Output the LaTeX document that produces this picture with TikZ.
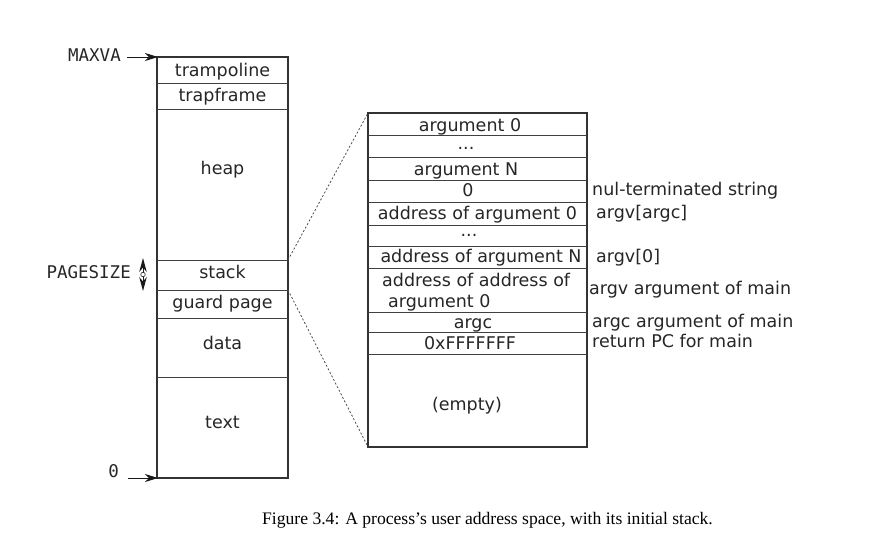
\documentclass[tikz,border=0pt]{standalone}
\usepackage{fontspec}
\setmainfont{DejaVu Sans}
\newfontfamily\monofont{DejaVu Sans Mono}
\newfontfamily\capfont{Liberation Serif}
\usetikzlibrary{arrows.meta}
\begin{document}
\begin{tikzpicture}[x=1pt,y=-1pt,
  box/.style={draw=black!80,line width=1.1pt},
  sep/.style={draw=black!75,line width=0.9pt},
  lbl/.style={inner sep=0pt,anchor=base,text=black!85,font=\fontsize{17.5}{21.3}\selectfont},
  mlbl/.style={inner sep=0pt,anchor=base east,text=black!85,font=\monofont\fontsize{17.5}{20}\selectfont},
  ptr/.style={draw=black!90,line width=1pt,-{Stealth[length=13pt,width=8pt,inset=4pt]}},
  zoomline/.style={draw=black!70,line width=0.8pt,dash pattern=on 2pt off 2pt}]
\useasboundingbox (0,0) rectangle (877,550);
% left column
\coordinate (L1) at (157,57); \coordinate (L2) at (288,478);
\draw[box] (L1) rectangle (L2);
\foreach \y in {83,109,260,290,318,377} \draw[sep] (157,\y) -- (288,\y);
\coordinate (sTR) at (288,260);
\coordinate (sBR) at (288,290);
\node[lbl] (tramp) at (222.5,76) {trampoline};
\node[lbl] (trapf) at (222.5,101.7) {trapframe};
\node[lbl] (heap) at (222.5,174) {heap};
\node[lbl] (stack) at (222.5,278.3) {stack};
\node[lbl] (guard) at (222.5,308) {guard page};
\node[lbl] (data) at (222.5,349) {data};
\node[lbl] (text) at (222.5,428.3) {text};
% left labels
\node[mlbl] (maxva) at (121,61.7) {MAXVA};
\coordinate (maxvaStart) at (127,57);
\coordinate (maxvaTip) at (158,57);
\draw[ptr] (maxvaStart) -- (maxvaTip);
\node[mlbl] (zero) at (119,477) {0};
\coordinate (zeroStart) at (128,478);
\coordinate (zeroTip) at (158,478);
\draw[ptr] (zeroStart) -- (zeroTip);
\node[mlbl] (pagesize) at (131,278) {PAGESIZE};
\coordinate (psTop) at (143,258);
\coordinate (psBot) at (143,291);
\draw[draw=black!90,line width=1pt,{Stealth[length=14pt,width=7.5pt]}-{Stealth[length=14pt,width=7.5pt]}] (psTop) -- (psBot);
\node[circle,draw=black!85,fill=white,line width=0.6pt,inner sep=0pt,minimum size=4.5pt] (psmid) at (143,274.5) {};
% right box
\coordinate (R1) at (368,113); \coordinate (R2) at (587,447);
\draw[box] (R1) rectangle (R2);
\foreach \y in {135,157,180,202,225,246,268,312,332,354} \draw[sep] (368,\y) -- (587,\y);
\coordinate (rTL) at (368,113);
\coordinate (rBL) at (368,447);
\draw[zoomline] (sTR) -- (rTL);
\draw[zoomline] (sBR) -- (rBL);
\node[lbl] (a0) at (470,131) {argument 0};
\node[lbl] (d1) at (466,149) {...};
\node[lbl] (aN) at (466,175.7) {argument N};
\node[lbl] (z0) at (468,196.7) {0};
\node[lbl] (ad0) at (477.5,219) {address of argument 0};
\node[lbl] (d2) at (469,236) {...};
\node[lbl] (adN) at (481,262.7) {address of argument N};
\node[lbl,anchor=north west,align=left] (adad) at (382,272.5) {address of address of\\\hspace{6pt}argument 0};
\node[lbl] (argc) at (473,328) {argc};
\node[lbl] (ret) at (470,349.3) {0xFFFFFFF};
\node[lbl] (empty) at (467,410) {(empty)};
% right annotations
\node[lbl,anchor=base west] (n1) at (592,195) {nul-terminated string};
\node[lbl,anchor=base west] (n2) at (596,218) {argv[argc]};
\node[lbl,anchor=base west] (n3) at (596,262.7) {argv[0]};
\node[lbl,anchor=base west] (n4) at (589,294) {argv argument of main};
\node[lbl,anchor=base west] (n5) at (592,327) {argc argument of main};
\node[lbl,anchor=base west] (n6) at (592,347) {return PC for main};
% caption
\node[inner sep=0pt,font=\capfont\fontsize{17.6}{20}\selectfont] (cap) at (487.5,520) {Figure 3.4: A process’s user address space, with its initial stack.};
\end{tikzpicture}
\end{document}
